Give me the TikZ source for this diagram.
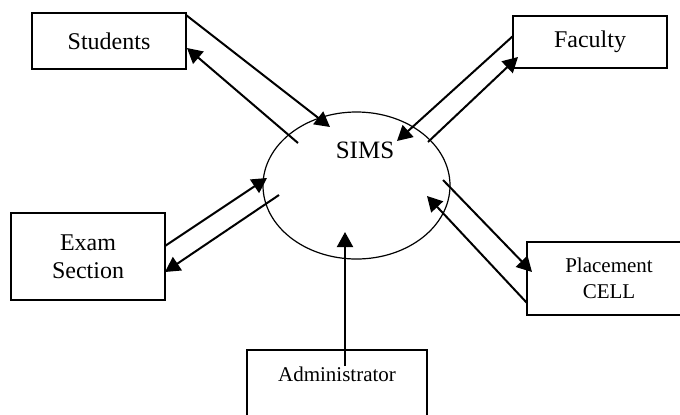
\documentclass[tikz,border=0pt]{standalone}
\usepackage{fontspec}
\setmainfont{Liberation Serif}
\usetikzlibrary{arrows.meta,shapes.geometric}
\begin{document}
\begin{tikzpicture}[x=0.5pt,y=-0.5pt,
  box/.style={draw,line width=0.75pt,rectangle,inner sep=0pt,align=center,font=\fontsize{12}{14}\selectfont},
  flow/.style={line width=1pt,-{Triangle[length=7.5pt,width=8pt]}},
  small/.style={font=\fontsize{10.5}{13}\selectfont}]
\useasboundingbox (0,0) rectangle (680,414);
\node[box,minimum width=77pt,minimum height=28pt] (stu) at (109,41) {Students};
\node[box,minimum width=77pt,minimum height=26pt] (fac) at (590,42) {Faculty};
\node[box,minimum width=77pt,minimum height=43.5pt] (exam) at (88,256.5) {Exam\\Section};
\node[box,small,minimum width=77pt,minimum height=36.5pt] (plc) at (604,278.5) {\hspace{5pt}Placement\\\hspace{5pt}CELL};
\node[box,small,anchor=north,minimum width=90pt,inner ysep=0pt,text height=16pt,text depth=24pt] (adm) at (337,349) {Administrator};
\node[draw,line width=0.6pt,ellipse,minimum width=93.5pt,minimum height=73.5pt,inner sep=0pt] (sims) at (356.5,185.5) {};
\node[font=\fontsize{12.5}{14}\selectfont,anchor=base] (simst) at (365,158) {SIMS};
% endpoints
\coordinate (s1a) at (186,15);  \coordinate (s1b) at (330,127);
\coordinate (s2a) at (298,143); \coordinate (s2b) at (187,48);
\coordinate (f1a) at (513,36);  \coordinate (f1b) at (397,141);
\coordinate (f2a) at (428,142); \coordinate (f2b) at (518,57);
\coordinate (e1a) at (165,246); \coordinate (e1b) at (267,178);
\coordinate (e2a) at (279,195); \coordinate (e2b) at (165,272);
\coordinate (p1a) at (443,180); \coordinate (p1b) at (532,272);
\coordinate (p2a) at (527,303); \coordinate (p2b) at (427,196);
\coordinate (aa) at (345,366);  \coordinate (ab) at (345,232);
\draw[flow] (s1a) -- (s1b);
\draw[flow] (s2a) -- (s2b);
\draw[flow] (f1a) -- (f1b);
\draw[flow] (f2a) -- (f2b);
\draw[flow] (e1a) -- (e1b);
\draw[flow] (e2a) -- (e2b);
\draw[flow] (p1a) -- (p1b);
\draw[flow] (p2a) -- (p2b);
\draw[flow] (aa) -- (ab);
\end{tikzpicture}
\end{document}
